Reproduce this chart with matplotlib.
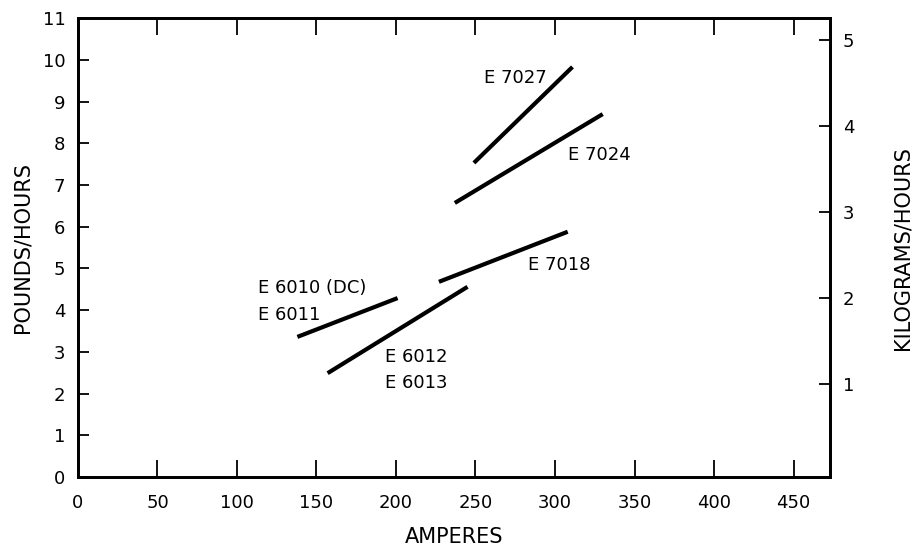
import matplotlib as mpl
mpl.use('Agg')
import matplotlib.pyplot as plt
import numpy as np

plt.rcParams['font.family'] = ['DejaVu Sans']

# electrode lines: (amps start, amps end), (lb/h start, lb/h end)
e6010_x = [138, 201]
e6010_y = [3.36, 4.29]
e6012_x = [157, 245]
e6012_y = [2.49, 4.56]
e7018_x = [227, 308]
e7018_y = [4.68, 5.88]
e7024_x = [237, 330]
e7024_y = [6.57, 8.70]
e7027_x = [249, 311]
e7027_y = [7.53, 9.83]

x_ticks = [0, 50, 100, 150, 200, 250, 300, 350, 400, 450]
y_ticks = list(range(0, 12))
kg_ticks = [1, 2, 3, 4, 5]

fig = plt.figure(figsize=(9.15, 5.49), dpi=100)
ax = fig.add_axes([0.0852, 0.131, 0.822, 0.836])

for xs, ys in [(e6010_x, e6010_y), (e6012_x, e6012_y), (e7018_x, e7018_y),
               (e7024_x, e7024_y), (e7027_x, e7027_y)]:
    ax.plot(xs, ys, color='black', lw=3, solid_capstyle='butt')

ax.set_xlim(0, 473)
ax.set_ylim(0, 11)
ax.set_xticks(x_ticks)
ax.set_yticks(y_ticks)
ax.tick_params(axis='x', direction='in', length=12, width=1.3, top=True,
               labelsize=13, pad=12)
ax.tick_params(axis='y', direction='in', length=8, width=1.3,
               labelsize=13, pad=9)
for s in ax.spines.values():
    s.set_linewidth(2)

ax.set_xlabel('AMPERES', fontsize=15, labelpad=11)
ax.set_ylabel('POUNDS/HOURS', fontsize=15, labelpad=7)

# right axis in kilograms/hour
ax2 = ax.twinx()
ax2.set_ylim(-0.08, 5.25)
ax2.set_yticks(kg_ticks)
ax2.tick_params(axis='y', direction='in', length=8, width=1.3,
                labelsize=13, pad=9)
ax2.set_ylabel('KILOGRAMS/HOURS', fontsize=15, labelpad=28)
for s in ax2.spines.values():
    s.set_linewidth(2)

fs = 13
ax.text(295, 9.57, 'E 7027', fontsize=fs, ha='right', va='center')
ax.text(308, 7.72, 'E 7024', fontsize=fs, ha='left', va='center')
ax.text(283, 5.08, 'E 7018', fontsize=fs, ha='left', va='center')
ax.text(113, 4.53, 'E 6010 (DC)', fontsize=fs, ha='left', va='center')
ax.text(113, 3.88, 'E 6011', fontsize=fs, ha='left', va='center')
ax.text(193, 2.88, 'E 6012', fontsize=fs, ha='left', va='center')
ax.text(193, 2.25, 'E 6013', fontsize=fs, ha='left', va='center')

fig.savefig('out.png', dpi=100)
